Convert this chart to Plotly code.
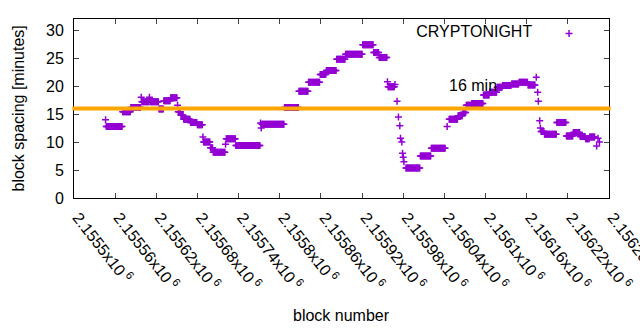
import plotly.graph_objects as go

# Plateaus of block spacing: first block, last block, spacing [minutes]
seg_start = [2155546, 2155547, 2155571, 2155583, 2155598, 2155599, 2155610, 2155611, 2155624, 2155631,
             2155641, 2155651, 2155652, 2155656, 2155660, 2155670, 2155680, 2155688, 2155689, 2155699,
             2155703, 2155721, 2155722, 2155736, 2155772, 2155773, 2155774, 2155807, 2155828, 2155842,
             2155859, 2155868, 2155883, 2155896, 2155921, 2155937, 2155945, 2155957, 2155958, 2155968,
             2155971, 2155973, 2155975, 2155976, 2155978, 2155979, 2155980, 2155981, 2155984, 2156005,
             2156021, 2156044, 2156047, 2156060, 2156067, 2156072, 2156080, 2156097, 2156106, 2156117,
             2156125, 2156138, 2156149, 2156162, 2156174, 2156176, 2156177, 2156179, 2156180, 2156181,
             2156186, 2156204, 2156218, 2156228, 2156238, 2156246, 2156252, 2156262, 2156264, 2156266]
seg_end = [2155546, 2155570, 2155582, 2155597, 2155598, 2155609, 2155610, 2155623, 2155630, 2155640,
           2155650, 2155651, 2155655, 2155659, 2155669, 2155679, 2155687, 2155688, 2155698, 2155702,
           2155720, 2155721, 2155735, 2155771, 2155772, 2155773, 2155806, 2155827, 2155841, 2155858,
           2155867, 2155882, 2155895, 2155920, 2155936, 2155944, 2155956, 2155957, 2155967, 2155968,
           2155971, 2155973, 2155975, 2155976, 2155978, 2155979, 2155980, 2155981, 2156004, 2156020,
           2156041, 2156044, 2156059, 2156066, 2156071, 2156079, 2156096, 2156105, 2156116, 2156124,
           2156137, 2156148, 2156161, 2156172, 2156174, 2156176, 2156177, 2156179, 2156180, 2156185,
           2156203, 2156217, 2156227, 2156237, 2156245, 2156251, 2156259, 2156262, 2156264, 2156266]
seg_value = [14.0, 12.8, 15.4, 16.2, 18.0, 17.2, 18.0, 17.2, 15.9, 17.4,
             17.9, 16.6, 15.4, 14.8, 14.1, 13.5, 13.1, 10.9, 10.0, 9.0,
             8.2, 9.6, 10.6, 9.4, 13.4, 12.5, 13.2, 16.2, 19.1, 20.7,
             22.1, 22.8, 24.8, 25.7, 27.4, 26.0, 25.1, 20.8, 19.9, 20.3,
             17.3, 14.5, 12.9, 10.7, 10.0, 8.0, 7.3, 6.5, 5.35, 7.5,
             8.9, 12.8, 14.1, 14.7, 15.3, 16.6, 16.9, 18.4, 18.9, 19.8,
             20.1, 20.4, 20.7, 20.2, 21.6, 18.9, 17.3, 13.8, 12.5, 11.9,
             11.4, 13.5, 11.1, 11.7, 11.0, 10.6, 10.9, 9.3, 10.7, 10.0]

tick_vals = [2155500, 2155560, 2155620, 2155680, 2155740, 2155800, 2155860,
             2155920, 2155980, 2156040, 2156100, 2156160, 2156220, 2156280]
tick_text = ["2.1555", "2.15556", "2.15562", "2.15568", "2.15574", "2.1558", "2.15586",
             "2.15592", "2.15598", "2.15604", "2.1561", "2.15616", "2.15622", "2.15628"]

target_minutes = 16
series_name = "CRYPTONIGHT"

blocks, spacing = [], []
for s, e, v in zip(seg_start, seg_end, seg_value):
    for b in range(s, e + 1):
        blocks.append(b)
        spacing.append(v)

FONT = "Liberation Sans, Arial, sans-serif"
PURPLE = "#9400D3"

fig = go.Figure()
fig.add_trace(go.Scatter(
    x=blocks, y=spacing, mode="markers", name="",
    marker=dict(symbol="cross-thin", size=5, color=PURPLE,
                line=dict(color=PURPLE, width=1.5)),
    showlegend=True,
))

fig.add_shape(type="line", xref="paper", yref="y", x0=-0.003, x1=1.003,
              y0=target_minutes, y1=target_minutes,
              line=dict(color="#FFA500", width=4), layer="above")

fig.add_annotation(x=2156081, y=20.2, xref="x", yref="y", text="16 min",
                   showarrow=False, font=dict(family=FONT, size=16, color="black"))
fig.add_annotation(x=0, y=0.5, xref="paper", yref="paper", xshift=-56,
                   xanchor="center", yanchor="middle",
                   text="block spacing [minutes]", textangle=-90, showarrow=False,
                   font=dict(family=FONT, size=16, color="black"))
fig.add_annotation(x=0.5, y=0, xref="paper", yref="paper", yshift=-117,
                   xanchor="center", yanchor="middle",
                   text="block number", showarrow=False,
                   font=dict(family=FONT, size=16, color="black"))

fig.update_layout(
    width=640, height=330,
    margin=dict(l=74, r=31, t=19, b=132),
    paper_bgcolor="white", plot_bgcolor="white",
    font=dict(family=FONT, size=16, color="black"),
    legend=dict(title=dict(text=series_name + "\u00a0\u00a0", side="left", font=dict(size=16)),
                x=0.9725, y=1.013, xanchor="right", yanchor="top",
                bgcolor="rgba(0,0,0,0)", borderwidth=0, font=dict(size=16)),
    xaxis=dict(range=[2155500, 2156280], tickvals=tick_vals,
               ticktext=[t + "x10<sup> 6</sup>" for t in tick_text],
               tickangle=52, ticks="inside", ticklen=5, mirror="allticks",
               showline=True, linecolor="black", linewidth=1, showgrid=False,
               zeroline=False, tickfont=dict(size=16), ticklabeloverflow="allow",
               ticklabelstandoff=3, ticklabelshift=4, automargin=False),
    yaxis=dict(range=[0, 32], tickvals=[0, 5, 10, 15, 20, 25, 30],
               ticks="inside", ticklen=5, mirror="allticks",
               showline=True, linecolor="black", linewidth=1, showgrid=False,
               zeroline=False, tickfont=dict(size=16), ticklabelstandoff=6,
               automargin=False),
)

fig.write_html("out.html")
